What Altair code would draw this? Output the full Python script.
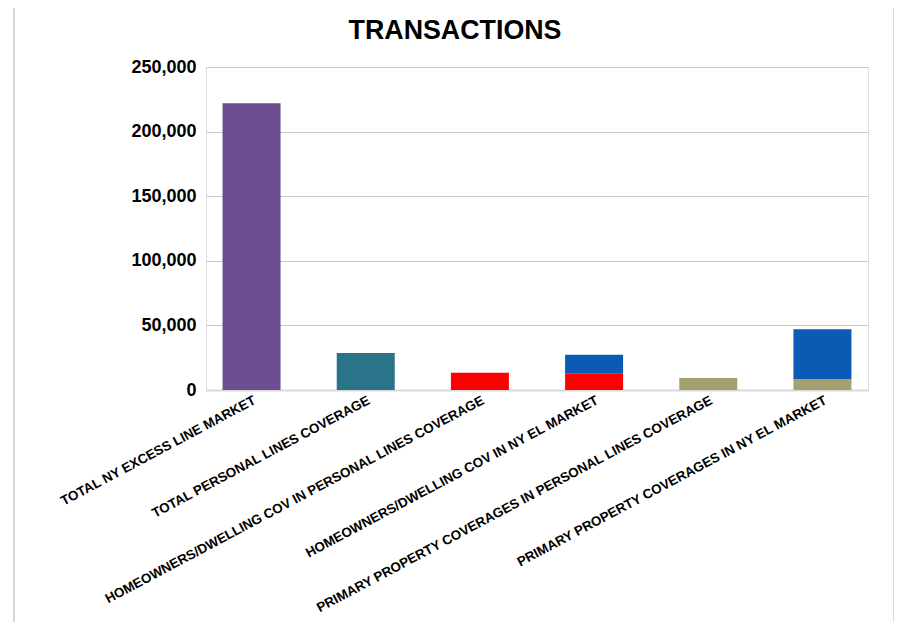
import altair as alt
import pandas as pd

# ---- data ----
categories = [
    "TOTAL NY EXCESS LINE MARKET",
    "TOTAL PERSONAL LINES COVERAGE",
    "HOMEOWNERS/DWELLING COV IN PERSONAL LINES COVERAGE",
    "HOMEOWNERS/DWELLING COV IN NY EL MARKET",
    "PRIMARY PROPERTY COVERAGES IN PERSONAL LINES COVERAGE",
    "PRIMARY PROPERTY COVERAGES IN NY EL MARKET",
]
# segment lists (category index, part, value, stack order)
seg_category = [0, 1, 2, 3, 3, 4, 5, 5]
seg_part = [
    "Total NY EL market",
    "Total personal lines",
    "Homeowners/dwelling (personal lines)",
    "Homeowners/dwelling (personal lines)",
    "Other NY EL market",
    "Primary property (personal lines)",
    "Primary property (personal lines)",
    "Other NY EL market",
]
seg_value = [222000, 28600, 13400, 12900, 14400, 9300, 8500, 38600]
seg_order = [0, 0, 0, 0, 1, 0, 0, 1]

part_domain = [
    "Total NY EL market",
    "Total personal lines",
    "Homeowners/dwelling (personal lines)",
    "Primary property (personal lines)",
    "Other NY EL market",
]
part_colors = ["#6A4E8F", "#297489", "#FF0000", "#A5A072", "#0B5AB4"]

y_ticks = [0, 50000, 100000, 150000, 200000, 250000]
title_text = "TRANSACTIONS"

df = pd.DataFrame({
    "category": [categories[i] for i in seg_category],
    "part": seg_part,
    "value": seg_value,
    "ord": seg_order,
})

FONT = "Arial, Liberation Sans, sans-serif"

bars = alt.Chart(df).mark_bar().encode(
    x=alt.X(
        "category:N",
        sort=categories,
        scale=alt.Scale(paddingInner=0.492, paddingOuter=0.145),
        axis=alt.Axis(
            title=None,
            labelAngle=-28,
            labelAlign="right",
            labelBaseline="top",
            labelPadding=3,
            labelFontSize=13.4,
            labelFontWeight="bold",
            labelColor="#000000",
            labelFont=FONT,
            labelLimit=0,
            ticks=False,
            domainColor="#D9D9D9",
            domainWidth=2,
            grid=False,
        ),
    ),
    y=alt.Y(
        "value:Q",
        stack="zero",
        scale=alt.Scale(domain=[0, 250000], nice=False),
        axis=alt.Axis(
            title=None,
            values=y_ticks,
            format=",d",
            labelFontSize=18,
            labelFontWeight="bold",
            labelColor="#000000",
            labelFont=FONT,
            labelPadding=10,
            ticks=False,
            domain=False,
            gridColor="#C8C8C8",
            gridWidth=1,
        ),
    ),
    color=alt.Color("part:N", scale=alt.Scale(domain=part_domain, range=part_colors), legend=None),
    order=alt.Order("ord:Q"),
)

base1 = alt.Chart(pd.DataFrame({"t": [title_text]}))

frame = base1.mark_rect(
    fill=None, stroke="#D9D9D9", strokeWidth=2, clip=False
).encode(
    x=alt.value(-192), x2=alt.value(688), y=alt.value(-64), y2=alt.value(700)
)

title = base1.mark_text(
    font=FONT, fontSize=26.8, fontWeight="bold", color="#000000",
    align="center", baseline="alphabetic", clip=False,
).encode(text="t:N", x=alt.value(249), y=alt.value(-28))

chart = alt.layer(frame, bars, title).properties(
    width=662,
    height=323,
    autosize=alt.AutoSizeParams(type="none"),
    padding={"left": 198, "top": 59, "right": 26, "bottom": 232},
).configure_view(stroke=None).configure(background="#FFFFFF")

chart.save("out.html", embed_options={"renderer": "svg", "actions": False})
